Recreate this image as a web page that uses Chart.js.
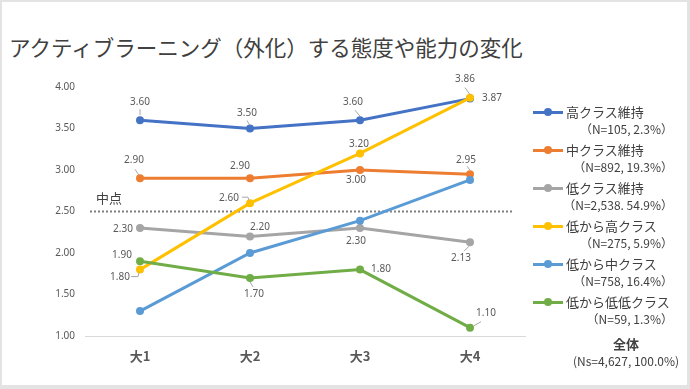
<!DOCTYPE html>
<html lang="ja">
<head>
  <meta charset="UTF-8">
  <title>アクティブラーニング（外化）する態度や能力の変化</title>
  <script src="https://cdn.jsdelivr.net/npm/chart.js"></script>
  <style>
    html, body {
      margin: 0;
      padding: 0;
      width: 690px;
      height: 389px;
      overflow: hidden;
      background: #e3e3e3;
      font-family: "Noto Sans", "Noto Sans CJK JP", sans-serif;
    }
    .frame {
      position: absolute;
      left: 2px;
      top: 2px;
      width: 685px;
      height: 383px;
      background: #fff;
    }
    h1 {
      position: absolute;
      left: 9px;
      top: 33px;
      margin: 0;
      font-family: "Noto Sans CJK JP", sans-serif;
      font-weight: 400;
      font-size: 21.5px;
      line-height: 28px;
      color: #404040;
      white-space: nowrap;
    }
    #chart {
      position: absolute;
      left: 0;
      top: 0;
    }
    .legend {
      position: absolute;
      left: 533px;
      top: 0;
      width: 140px;
      font-family: "Noto Sans CJK JP", sans-serif;
      color: #404040;
    }
    .item {
      position: absolute;
      left: 0;
      width: 140px;
    }
    .item .name {
      position: absolute;
      left: 33px;
      top: -10px;
      font-size: 13px;
      line-height: 20px;
      white-space: nowrap;
    }
    .item .n {
      position: absolute;
      right: 0;
      top: 8px;
      font-size: 12px;
      line-height: 18px;
      white-space: nowrap;
    }
    .item .swatch {
      position: absolute;
      left: 0;
      top: -1.5px;
      width: 30px;
      height: 3px;
    }
    .item .dot {
      position: absolute;
      left: 11px;
      top: -4px;
      width: 8px;
      height: 8px;
      border-radius: 50%;
    }
    .total {
      position: absolute;
      left: 33px;
      width: 120px;
      text-align: center;
      font-size: 12px;
      line-height: 17px;
      white-space: nowrap;
    }
  </style>
</head>
<body>
  <div class="frame"></div>
  <h1>アクティブラーニング（外化）する態度や能力の変化</h1>
  <canvas id="chart" width="690" height="389"></canvas>
  <div class="legend" id="legend"></div>

  <script>
    // data
    const categories = ['大1', '大2', '大3', '大4'];
    const seriesNames = ['高クラス維持', '中クラス維持', '低クラス維持', '低から高クラス', '低から中クラス', '低から低低クラス'];
    const seriesCounts = ['（N=105, 2.3%）', '（N=892, 19.3%）', '（N=2,538. 54.9%）', '（N=275, 5.9%）', '（N=758, 16.4%）', '（N=59, 1.3%）'];
    const highKeep = [3.60, 3.50, 3.60, 3.86];
    const midKeep = [2.90, 2.90, 3.00, 2.95];
    const lowKeep = [2.30, 2.20, 2.30, 2.13];
    const lowToHigh = [1.80, 2.60, 3.20, 3.87];
    const lowToMid = [1.30, 2.00, 2.39, 2.88];
    const lowToLowLow = [1.90, 1.70, 1.80, 1.10];
    const totalTitle = '全体';
    const totalCount = '(Ns=4,627, 100.0%)';
    const midpointValue = 2.5;
    const midpointLabel = '中点';
    const yMin = 1.0, yMax = 4.0, yStep = 0.5;

    const seriesValues = [highKeep, midKeep, lowKeep, lowToHigh, lowToMid, lowToLowLow];
    const colors = ['#4472C4', '#ED7D31', '#A5A5A5', '#FFC000', '#5B9BD5', '#70AD47'];

    // label placement relative to each point: [dx, dy, leader segment or null]
    const labelPlacement = [
      [[0, -18, [0, -5, 0, -11]], [-3, -15, [0, -3, -3, -8]], [-7, -18, [0, -4, -5, -10]], [-5, -19, [0, -4, -5, -11]]],
      [[-6, -18, [-1, -3, -5, -9]], [-10, -12, null], [-4, 10, null], [-4, -14, [0, -4, -3, -8]]],
      [[-17, 1, null], [10, -9, null], [-4, 13, null], [-9, 16, [-1, 4, -6, 9]]],
      [[-20, 8, [-1, 3, -2, 7, -9, 7]], [-21, -5, [-1, -3, -2, -6, -8, -6]], [-1, -9, null], [22, 0, null]],
      null,
      [[-18, -6, null], [4, 16, [0, 4, 3, 9]], [21, 0, null], [16, -15, [4, -2, 11, -6]]]
    ];

    // legend built from the series arrays
    const legendEl = document.getElementById('legend');
    const legendTop = 112, legendStep = 38;
    seriesNames.forEach((name, i) => {
      const item = document.createElement('div');
      item.className = 'item';
      item.style.top = (legendTop + i * legendStep) + 'px';
      item.innerHTML =
        '<div class="swatch" style="background:' + colors[i] + '"></div>' +
        '<div class="dot" style="background:' + colors[i] + '"></div>' +
        '<div class="name">' + name + '</div>' +
        '<div class="n">' + seriesCounts[i] + '</div>';
      legendEl.appendChild(item);
    });
    const total = document.createElement('div');
    total.className = 'total';
    total.style.top = '335px';
    total.innerHTML = '<b style="font-size:13px">' + totalTitle + '</b><br>' + totalCount;
    legendEl.appendChild(total);

    // dotted midpoint line
    const midpointPlugin = {
      id: 'midpoint',
      beforeDatasetsDraw(chart) {
        const { ctx, chartArea, scales } = chart;
        const y = scales.y.getPixelForValue(midpointValue);
        ctx.save();
        ctx.strokeStyle = '#7f7f7f';
        ctx.lineWidth = 2;
        ctx.setLineDash([2, 2]);
        ctx.beginPath();
        ctx.moveTo(chartArea.left + 5, y);
        ctx.lineTo(chartArea.right - 13, y);
        ctx.stroke();
        ctx.setLineDash([]);
        ctx.fillStyle = '#404040';
        ctx.font = '13px "Noto Sans CJK JP", sans-serif';
        ctx.textAlign = 'center';
        ctx.textBaseline = 'middle';
        ctx.fillText(midpointLabel, chartArea.left + 24, y - 13);
        ctx.restore();
      }
    };

    // value labels with leader lines
    const valueLabelPlugin = {
      id: 'valueLabels',
      afterDatasetsDraw(chart) {
        const { ctx } = chart;
        ctx.save();
        ctx.font = '10px "Noto Sans", sans-serif';
        ctx.textAlign = 'center';
        ctx.textBaseline = 'middle';
        chart.data.datasets.forEach((ds, i) => {
          const place = labelPlacement[i];
          if (!place) return;
          chart.getDatasetMeta(i).data.forEach((pt, j) => {
            const [dx, dy, leader] = place[j];
            if (leader) {
              ctx.strokeStyle = '#a6a6a6';
              ctx.lineWidth = 1;
              ctx.beginPath();
              ctx.moveTo(pt.x + leader[0], pt.y + leader[1]);
              for (let k = 2; k < leader.length; k += 2) {
                ctx.lineTo(pt.x + leader[k], pt.y + leader[k + 1]);
              }
              ctx.stroke();
            }
            ctx.fillStyle = '#595959';
            ctx.fillText(ds.data[j].toFixed(2), pt.x + dx, pt.y + dy);
          });
        });
        ctx.restore();
      }
    };

    const ctx = document.getElementById('chart').getContext('2d');
    new Chart(ctx, {
      type: 'line',
      data: {
        labels: categories,
        datasets: seriesNames.map((name, i) => ({
          label: name,
          data: seriesValues[i],
          borderColor: colors[i],
          backgroundColor: colors[i],
          borderWidth: 3,
          pointRadius: 4,
          pointHoverRadius: 4,
          pointBorderWidth: 0,
          tension: 0,
          order: seriesNames.length - i
        }))
      },
      options: {
        responsive: false,
        animation: false,
        layout: { padding: { top: 87, left: 0, right: 165, bottom: 0 } },
        plugins: {
          legend: { display: false },
          tooltip: { enabled: false }
        },
        scales: {
          x: {
            offset: true,
            grid: { display: false, drawTicks: false },
            border: { display: true, color: '#d9d9d9', width: 1 },
            ticks: {
              padding: 12,
              color: '#595959',
              font: { size: 13, weight: 'bold', family: '"Noto Sans CJK JP", sans-serif' }
            },
            afterFit(scale) { scale.height = 53; }
          },
          y: {
            min: yMin,
            max: yMax,
            grid: { display: false, drawTicks: false },
            border: { display: false },
            ticks: {
              stepSize: yStep,
              padding: 10,
              color: '#595959',
              font: { size: 10, family: '"Noto Sans", sans-serif' },
              callback: v => Number(v).toFixed(2)
            },
            afterFit(scale) { scale.width = 85; }
          }
        }
      },
      plugins: [midpointPlugin, valueLabelPlugin]
    });
  </script>
</body>
</html>
